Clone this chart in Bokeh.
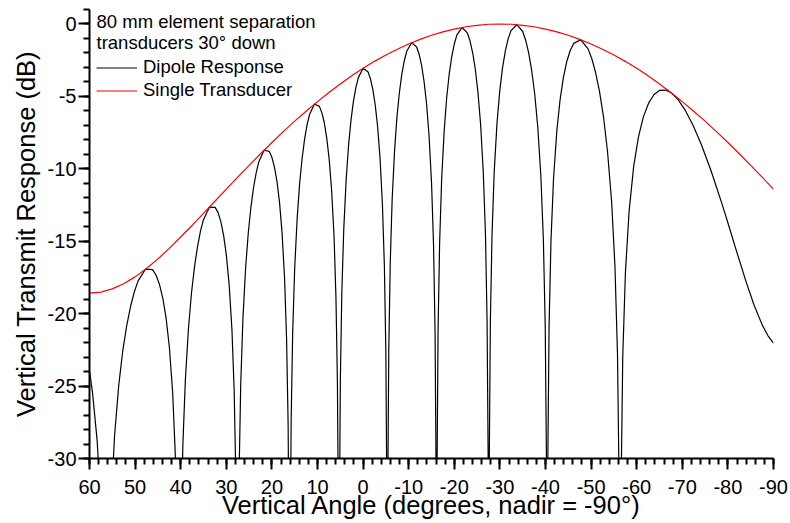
from bokeh.plotting import figure
from bokeh.models import Range1d, FixedTicker, Legend, LegendItem, Label
from bokeh.embed import file_html
from bokeh.resources import INLINE

# ---- data ----
single_angle = [60, 57.5, 55, 52.5, 50, 47.5, 45, 42.5, 40, 37.5, 35, 32.5, 30, 27.5, 25,
                22.5, 20, 17.5, 15, 12.5, 10, 7.5, 5, 2.5, 0, -2.5, -5, -7.5, -10, -12.5,
                -15, -17.5, -20, -22.5, -25, -27.5, -30, -32.5, -35, -37.5, -40, -42.5,
                -45, -47.5, -50, -52.5, -55, -57.5, -60, -62.5, -65, -67.5, -70, -72.5,
                -75, -77.5, -80, -82.5, -85, -87.5, -90]
single_db = [-18.58, -18.51, -18.29, -17.93, -17.46, -16.88, -16.22, -15.49, -14.71, -13.91,
             -13.08, -12.24, -11.40, -10.57, -9.76, -8.96, -8.18, -7.43, -6.71, -6.02,
             -5.36, -4.73, -4.14, -3.58, -3.06, -2.58, -2.14, -1.74, -1.38, -1.06,
             -0.78, -0.54, -0.35, -0.19, -0.09, -0.02, 0.00, -0.02, -0.09, -0.19,
             -0.35, -0.54, -0.78, -1.06, -1.38, -1.74, -2.14, -2.58, -3.06, -3.58,
             -4.14, -4.73, -5.36, -6.02, -6.71, -7.43, -8.18, -8.96, -9.76, -10.57, -11.40]

dipole_angle = [
    60.00, 59.35, 58.33, 57.53, 56.94, 56.56, 56.17, 55.79, 55.23, 54.50, 53.59, 52.71,
    51.84, 50.99, 50.16, 49.34, 47.74, 46.18, 45.42, 44.67, 43.93, 43.20, 42.48, 41.76,
    41.20, 40.78, 40.50, 40.22, 39.94, 39.53, 38.98, 38.30, 37.63, 36.96, 36.30, 35.65,
    35.00, 33.71, 32.45, 31.82, 31.20, 30.58, 29.97, 29.36, 28.75, 28.27, 27.91, 27.67,
    27.43, 27.19, 26.84, 26.36, 25.77, 25.18, 24.60, 24.02, 23.44, 22.86, 21.72, 20.58,
    20.02, 19.45, 18.89, 18.33, 17.78, 17.22, 16.78, 16.44, 16.22, 16.00, 15.78, 15.45,
    15.01, 14.46, 13.92, 13.37, 12.83, 12.29, 11.74, 10.66, 9.59, 9.05, 8.51, 7.98,
    7.44, 6.91, 6.37, 5.95, 5.63, 5.41, 5.20, 4.99, 4.67, 4.24, 3.71, 3.18,
    2.65, 2.12, 1.59, 1.06, 0.00,
    -1.06, -1.59, -2.12, -2.65, -3.18, -3.71, -4.24, -4.67, -4.99, -5.20, -5.41, -5.63,
    -5.95, -6.37, -6.91, -7.44, -7.98, -8.51, -9.05, -9.59, -10.66, -11.74, -12.29, -12.83,
    -13.37, -13.92, -14.46, -15.01, -15.45, -15.78, -16.00, -16.22, -16.44, -16.78, -17.22, -17.78,
    -18.33, -18.89, -19.45, -20.02, -20.58, -21.72, -22.86, -23.44, -24.02, -24.60, -25.18, -25.77,
    -26.36, -26.84, -27.19, -27.43, -27.67, -27.91, -28.27, -28.75, -29.36, -29.97, -30.58, -31.20,
    -31.82, -32.45, -33.71, -35.00, -35.65, -36.30, -36.96, -37.63, -38.30, -38.98, -39.53, -39.94,
    -40.22, -40.50, -40.78, -41.20, -41.76, -42.48, -43.20, -43.93, -44.67, -45.42, -46.18, -47.74,
    -49.34, -50.16, -50.99, -51.84, -52.71, -53.59, -54.50, -55.23, -55.79, -56.17, -56.56, -56.94,
    -57.53, -58.33, -59.35, -60.41, -61.50, -62.63, -63.81, -65.04, -66.32, -67.68, -69.12, -70.66,
    -72.33, -74.17, -76.25, -78.69, -80.20, -81.82, -83.96, -85.73, -87.54, -88.80, -90.00]
dipole_db = [
    -23.96, -25.42, -28.73, -33.06, -38.99, -48.48, -48.45, -38.88, -32.85, -28.41, -24.95, -22.58,
    -20.82, -19.49, -18.49, -17.74, -16.93, -16.96, -17.33, -17.96, -18.92, -20.31, -22.34, -25.46,
    -29.63, -35.48, -44.93, -44.84, -35.22, -29.11, -24.58, -21.02, -18.56, -16.74, -15.35, -14.29,
    -13.51, -12.65, -12.66, -13.01, -13.65, -14.61, -16.01, -18.05, -21.19, -25.38, -31.24, -40.69,
    -40.61, -31.00, -24.90, -20.40, -16.87, -14.43, -12.64, -11.29, -10.26, -9.51, -8.72, -8.80,
    -9.19, -9.86, -10.86, -12.30, -14.37, -17.55, -21.77, -27.66, -37.12, -37.06, -27.46, -21.39,
    -16.91, -13.42, -11.02, -9.27, -7.95, -6.96, -6.25, -5.53, -5.69, -6.12, -6.82, -7.86,
    -9.33, -11.45, -14.66, -18.91, -24.81, -34.29, -34.24, -24.66, -18.61, -14.17, -10.71, -8.35,
    -6.62, -5.34, -4.39, -3.72, -3.06,
    -3.29, -3.76, -4.50, -5.56, -7.08, -9.23, -12.47, -16.74, -22.67, -32.17, -32.13, -22.57,
    -16.53, -12.12, -8.69, -6.36, -4.68, -3.43, -2.52, -1.87, -1.29, -1.59, -2.09, -2.86,
    -3.97, -5.51, -7.70, -10.98, -15.28, -21.23, -30.74, -30.72, -21.17, -15.16, -10.77, -7.38,
    -5.09, -3.44, -2.23, -1.35, -0.75, -0.24, -0.61, -1.16, -1.97, -3.11, -4.70, -6.93,
    -10.25, -14.59, -20.56, -30.08, -30.08, -20.54, -14.56, -10.21, -6.86, -4.62, -3.01, -1.85,
    -1.01, -0.46, -0.05, -0.52, -1.12, -1.98, -3.18, -4.82, -7.10, -10.48, -14.86, -20.87,
    -30.42, -30.44, -20.93, -14.99, -10.68, -7.40, -5.22, -3.69, -2.59, -1.83, -1.34, -1.09,
    -1.72, -2.40, -3.36, -4.65, -6.39, -8.77, -12.26, -16.73, -22.81, -32.40, -32.47, -23.01,
    -17.13, -12.94, -9.80, -7.76, -6.38, -5.45, -4.87, -4.58, -4.56, -4.77, -5.24, -5.97,
    -6.98, -8.32, -10.08, -12.40, -13.93, -15.61, -17.77, -19.40, -20.79, -21.53, -22.03]

x_ticks = [60, 50, 40, 30, 20, 10, 0, -10, -20, -30, -40, -50, -60, -70, -80, -90]
x_tick_labels = ["60", "50", "40", "30", "20", "10", "0", "-10", "-20", "-30", "-40",
                 "-50", "-60", "-70", "-80", "-90"]
y_ticks = [-30, -25, -20, -15, -10, -5, 0]
y_tick_labels = ["-30", "-25", "-20", "-15", "-10", "-5", "0"]
x_minor = list(range(60, -91, -2))
y_minor = list(range(-30, 2))

header_lines = ["80 mm element separation", "transducers 30\u00b0 down"]
series_names = ["Dipole Response", "Single Transducer"]
x_title = "Vertical Angle (degrees, nadir = -90\u00b0)"
y_title = "Vertical Transmit Response (dB)"

FONT = "Liberation Sans"

p = figure(width=790, height=523, output_backend="svg", toolbar_location=None,
           x_range=Range1d(60, -90), y_range=Range1d(-30, 1),
           min_border_left=89, min_border_right=17, min_border_top=9,
           min_border_bottom=65)
p.xgrid.visible = False
p.ygrid.visible = False
p.outline_line_color = None
p.background_fill_color = "white"
p.border_fill_color = "white"

r_black = p.line(dipole_angle, dipole_db, line_color="black", line_width=1.2)
r_red = p.line(single_angle, single_db, line_color="#ff0000", line_width=1.2)

for ax in (p.xaxis[0], p.yaxis[0]):
    ax.axis_line_width = 2
    ax.axis_line_color = "black"
    ax.major_tick_line_width = 2
    ax.minor_tick_line_width = 2
    ax.major_tick_line_color = "black"
    ax.minor_tick_line_color = "black"
    ax.major_tick_out = 11
    ax.major_tick_in = 0
    ax.minor_tick_out = 6
    ax.minor_tick_in = 0
    ax.major_label_text_font = FONT
    ax.major_label_text_font_size = "20px"
    ax.major_label_text_color = "black"
    ax.axis_label_text_font = FONT
    ax.axis_label_text_font_size = "25.5px"
    ax.axis_label_text_font_style = "normal"
    ax.axis_label_text_color = "black"

xa = p.xaxis[0]
xa.ticker = FixedTicker(ticks=x_ticks, minor_ticks=x_minor)
xa.major_label_overrides = {t: s for t, s in zip(x_ticks, x_tick_labels)}
xa.axis_label = x_title
xa.major_label_standoff = 10
xa.axis_label_standoff = -6

ya = p.yaxis[0]
ya.ticker = FixedTicker(ticks=y_ticks, minor_ticks=y_minor)
ya.major_label_overrides = {t: s for t, s in zip(y_ticks, y_tick_labels)}
ya.axis_label = y_title
ya.major_label_standoff = 2
ya.axis_label_standoff = 5

legend = Legend(items=[LegendItem(label=series_names[0], renderers=[r_black]),
                       LegendItem(label=series_names[1], renderers=[r_red])],
                location=(7, 357), orientation="vertical",
                glyph_width=41, glyph_height=21, label_height=21, label_standoff=6,
                spacing=1, padding=0, margin=0,
                border_line_color=None, background_fill_alpha=0,
                label_text_font=FONT, label_text_font_size="18.5px",
                label_text_color="black")
p.add_layout(legend)

p.add_layout(Label(x=7, y=437.5, x_units="screen", y_units="screen", text=header_lines[0],
                   text_font=FONT, text_font_size="18.5px", text_color="black",
                   text_baseline="alphabetic"))
p.add_layout(Label(x=7, y=416.5, x_units="screen", y_units="screen", text=header_lines[1],
                   text_font=FONT, text_font_size="18.5px", text_color="black",
                   text_baseline="alphabetic"))

open("out.html", "w").write(file_html(p, INLINE))
